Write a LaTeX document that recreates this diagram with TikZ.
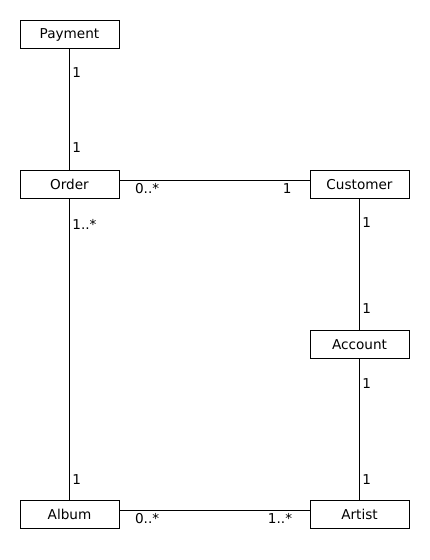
\documentclass[tikz,border=0pt]{standalone}
\usepackage{fontspec}
\setmainfont{DejaVu Sans}
\usetikzlibrary{positioning}

\begin{document}
\begin{tikzpicture}[x=1pt,y=1pt,node distance=122pt and 191pt,
  cls/.style={draw,line width=0.7pt,minimum width=99pt,minimum height=28pt,inner sep=0pt,outer sep=0pt,font=\fontsize{13.6}{16}\selectfont},
  mult/.style={font=\fontsize{13.6}{16}\selectfont,inner sep=2.5pt},
  assoc/.style={line width=0.7pt}]
  \useasboundingbox (0,0) rectangle (430,-560);
  \node[cls] (payment) at (69.5,-34.5) {Payment};
  \node[cls,below=of payment] (order) {Order};
  \node[cls,right=of order] (customer) {Customer};
  \node[cls,below=132pt of customer] (account) {Account};
  \node[cls,below=142pt of account] (artist) {Artist};
  \node[cls,left=of artist] (album) {Album};
  \draw[assoc] (payment) -- node[mult,right,pos=0.2]{1} node[mult,right,pos=0.81]{1} (order);
  \draw[assoc] ([yshift=4pt]order.east) -- node[mult,below,pos=0.147]{0..*} node[mult,below,pos=0.88]{1} ([yshift=4pt]customer.west);
  \draw[assoc] (order) -- node[mult,right,pos=0.086]{1..*} node[mult,right,pos=0.93]{1} (album);
  \draw[assoc] (customer) -- node[mult,right,pos=0.18]{1} node[mult,right,pos=0.83]{1} (account);
  \draw[assoc] (account) -- node[mult,right,pos=0.176]{1} node[mult,right,pos=0.85]{1} (artist);
  \draw[assoc] ([yshift=4pt]album.east) -- node[mult,below,pos=0.147]{0..*} node[mult,below,pos=0.843]{1..*} ([yshift=4pt]artist.west);
\end{tikzpicture}
\end{document}
